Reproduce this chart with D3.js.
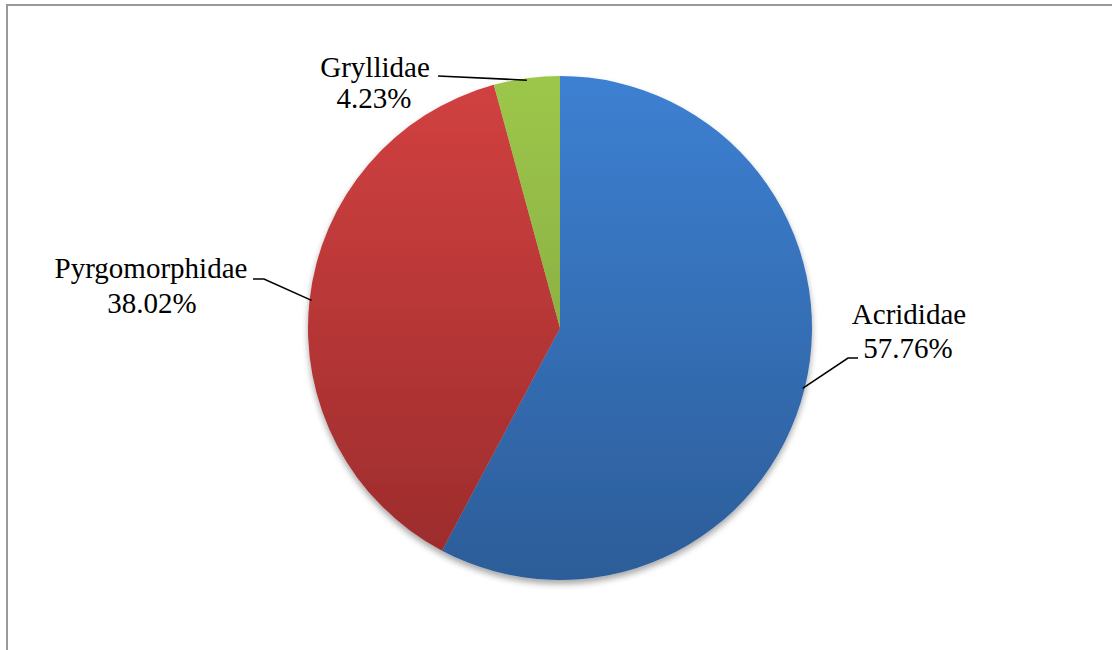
<!DOCTYPE html>
<html>
<head>
<meta charset="utf-8">
<script src="https://cdn.jsdelivr.net/npm/d3@7"></script>
<style>
  html, body { margin: 0; padding: 0; background: #fff; }
  svg { display: block; }
</style>
</head>
<body>
<svg id="chart" width="1112" height="650"></svg>
<script>
// Orthoptera families, share of specimens (%)
const families = ["Acrididae", "Pyrgomorphidae", "Gryllidae"];
const shares = [57.76, 38.02, 4.23];
const shareLabels = ["57.76%", "38.02%", "4.23%"];
const topColors = ["#3d80d2", "#d24141", "#9dc74b"];
const bottomColors = ["#2c5d99", "#9a2b2b", "#7a9d3a"];

const svg = d3.select("#chart");
const W = 1112, H = 650;
const cx = 560, cy = 328, R = 252;

// chart frame
svg.append("rect")
  .attr("x", 7).attr("y", 5)
  .attr("width", W + 10).attr("height", H + 10)
  .attr("fill", "#fff")
  .attr("stroke", "#999").attr("stroke-width", 2);

const defs = svg.append("defs");

const shadow = defs.append("filter").attr("id", "pieShadow")
  .attr("x", "-10%").attr("y", "-10%").attr("width", "120%").attr("height", "120%");
shadow.append("feDropShadow")
  .attr("dx", 0).attr("dy", 4).attr("stdDeviation", 3)
  .attr("flood-color", "#000").attr("flood-opacity", 0.35);

// vertical shading per slice, in the pie group's local coordinates
families.forEach((f, i) => {
  const g = defs.append("linearGradient")
    .attr("id", "grad" + i)
    .attr("gradientUnits", "userSpaceOnUse")
    .attr("x1", 0).attr("y1", -R).attr("x2", 0).attr("y2", R);
  g.append("stop").attr("offset", "0%").attr("stop-color", topColors[i]);
  g.append("stop").attr("offset", "100%").attr("stop-color", bottomColors[i]);
});

const data = families.map((f, i) => ({ name: f, value: shares[i], label: shareLabels[i], idx: i }));

const pie = d3.pie().value(d => d.value).sort(null);
const arc = d3.arc().innerRadius(0).outerRadius(R);
const arcs = pie(data);

const pieG = svg.append("g")
  .attr("transform", `translate(${cx},${cy})`)
  .attr("filter", "url(#pieShadow)");

pieG.selectAll("path")
  .data(arcs)
  .join("path")
  .attr("d", arc)
  .attr("fill", d => `url(#grad${d.data.idx})`);

// label positions and leader-line elbows
const layout = [
  { text: [909, 324], pct: [908, 358], elbow: [[848, 358], [858, 358]] },   // Acrididae
  { text: [151, 278], pct: [152, 313], elbow: [[264, 279], [253, 279]] },   // Pyrgomorphidae
  { text: [375, 77],  pct: [374, 108], elbow: [[438, 76]] }                 // Gryllidae
];

const serif = '"Liberation Serif", "Times New Roman", Times, serif';
const lineGen = d3.line();
arcs.forEach((a, i) => {
  const ang = (a.startAngle + a.endAngle) / 2;
  const p = [cx + (R - 2) * Math.sin(ang), cy - (R - 2) * Math.cos(ang)];
  svg.append("path")
    .attr("d", lineGen([p, ...layout[i].elbow]))
    .attr("fill", "none")
    .attr("stroke", "#000")
    .attr("stroke-width", 1.6);
  [[a.data.name, layout[i].text], [a.data.label, layout[i].pct]].forEach(([t, pos]) => {
    svg.append("text")
      .attr("x", pos[0]).attr("y", pos[1])
      .attr("text-anchor", "middle")
      .style("font-family", serif)
      .style("font-size", "29px")
      .style("fill", "#000")
      .text(t);
  });
});
</script>
</body>
</html>
